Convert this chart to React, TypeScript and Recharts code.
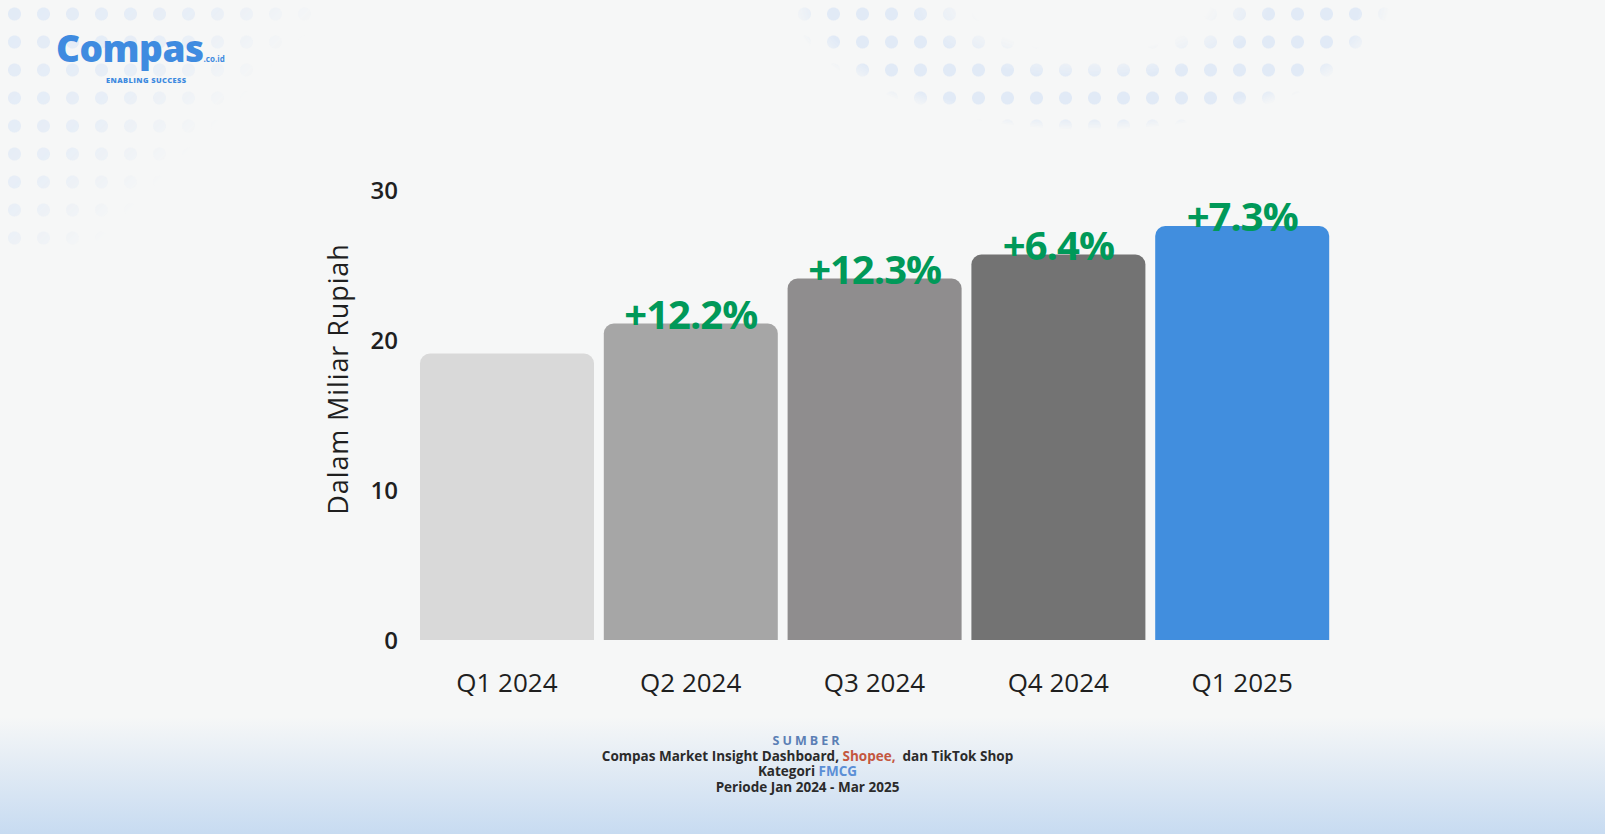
import { BarChart, Bar, XAxis, YAxis, Cell, LabelList } from "recharts";

// Penjualan FMCG per kuartal (miliar rupiah)
const quarters = ["Q1 2024", "Q2 2024", "Q3 2024", "Q4 2024", "Q1 2025"];
const sales = [19.1, 21.1, 24.1, 25.7, 27.6];
const growth = ["", "+12.2%", "+12.3%", "+6.4%", "+7.3%"];
const barColors = ["#d9d9d9", "#a6a6a6", "#8f8d8e", "#737373", "#418ede"];
const yTicks = [0, 10, 20, 30];

const chartData = quarters.map((q, i) => ({ name: q, value: sales[i], growth: growth[i] }));

const FONT = "'Open Sans', 'DejaVu Sans', sans-serif";

function GrowthLabel(props: any) {
  const { x, y, width, value } = props;
  if (!value) return null;
  return (
    <text
      x={x + width / 2}
      y={y + 5}
      textAnchor="middle"
      fill="#009959"
      fontSize={40}
      fontWeight={700}
      fontFamily={FONT}
      letterSpacing={-1}
    >
      {value}
    </text>
  );
}

const dots = (pos: string, mask: string) => ({
  position: "absolute" as const,
  ...(pos === "left" ? { left: 0, top: 0, width: 320, height: 250 } : { left: 790, top: 0, width: 600, height: 140 }),
  backgroundImage: "radial-gradient(circle, #e1eaf6 6px, transparent 7px)",
  backgroundSize: "29px 28px",
  WebkitMaskImage: mask,
  maskImage: mask,
});

export default function App() {
  return (
    <div
      style={{
        position: "absolute",
        left: 0,
        top: 0,
        width: 1605,
        height: 834,
        overflow: "hidden",
        background: "linear-gradient(180deg, #f6f7f7 0%, #f6f7f7 86%, #c7dbf1 100%)",
        fontFamily: FONT,
      }}
    >
      <div style={dots("left", "linear-gradient(135deg, black 0%, rgba(0,0,0,0.7) 35%, transparent 60%)")} />
      <div style={dots("right", "radial-gradient(ellipse 300px 130px at 50% 0%, transparent 40%, black 60%, black 90%, transparent 100%)")} />

      {/* logo */}
      <div style={{ position: "absolute", left: 56, top: 30, color: "#3f8be0" }}>
        <div style={{ fontSize: 37, fontWeight: 800, lineHeight: "36px", letterSpacing: -0.5 }}>
          Compas<span style={{ fontSize: 8, fontWeight: 700, letterSpacing: 0 }}>.co.id</span>
        </div>
        <div style={{ fontSize: 7.5, fontWeight: 800, marginLeft: 50, letterSpacing: 0.4, marginTop: -2 }}>
          ENABLING SUCCESS
        </div>
      </div>

      <div style={{ position: "absolute", left: 0, top: 0 }}>
        <BarChart
          width={1605}
          height={834}
          data={chartData}
          margin={{ top: 190, right: 271, bottom: 134, left: 300 }}
          barCategoryGap={5}
        >
          <XAxis
            dataKey="name"
            axisLine={false}
            tickLine={false}
            tickSize={0}
            tickMargin={34}
            height={60}
            tick={{ fill: "#1f1f1f", fontSize: 26, fontFamily: FONT }}
          />
          <YAxis
            domain={[0, 30]}
            ticks={yTicks}
            axisLine={false}
            tickLine={false}
            tickSize={0}
            tickMargin={17}
            width={115}
            tick={{ fill: "#1f1f1f", fontSize: 24, fontWeight: 600, fontFamily: FONT }}
            label={{
              value: "Dalam Miliar Rupiah",
              angle: -90,
              position: "insideLeft",
              dx: 33,
              dy: -36,
              style: {
                fill: "#1f1f1f",
                fontSize: 27,
                fontWeight: 500,
                fontFamily: FONT,
                letterSpacing: 0.9,
                textAnchor: "middle",
              },
            }}
          />
          <Bar dataKey="value" radius={[10, 10, 0, 0]} isAnimationActive={false}>
            {chartData.map((d, i) => (
              <Cell key={d.name} fill={barColors[i]} />
            ))}
            <LabelList dataKey="growth" content={GrowthLabel} />
          </Bar>
        </BarChart>
      </div>

      {/* sumber */}
      <div
        style={{
          position: "absolute",
          left: 0,
          width: 1615,
          top: 733,
          textAlign: "center",
          fontSize: 13.5,
          fontWeight: 700,
          lineHeight: "15.5px",
          color: "#2b2b2b",
        }}
      >
        <div style={{ color: "#5b7fb5", letterSpacing: 3, fontSize: 12.5 }}>SUMBER</div>
        <div>
          Compas Market Insight Dashboard, <span style={{ color: "#c4573f" }}>Shopee,</span>&nbsp; dan TikTok Shop
        </div>
        <div>
          Kategori <span style={{ color: "#5b8fd6" }}>FMCG</span>
        </div>
        <div>Periode Jan 2024 - Mar 2025</div>
      </div>
    </div>
  );
}
